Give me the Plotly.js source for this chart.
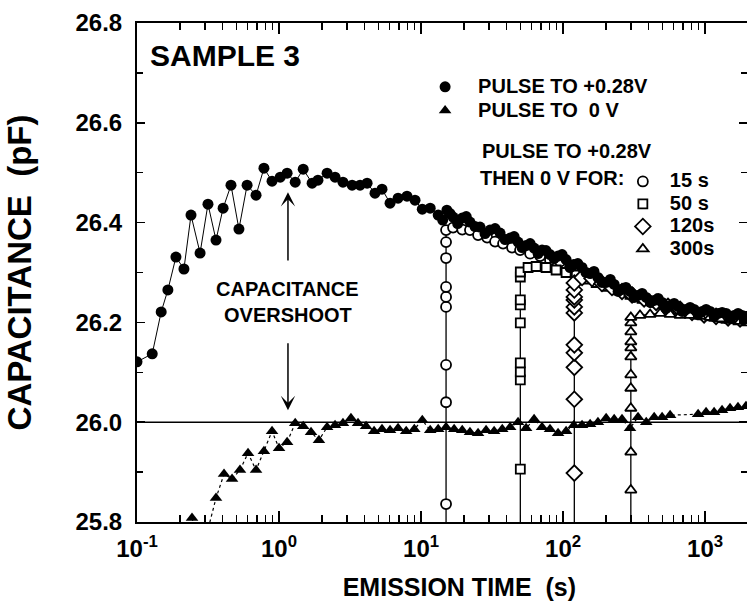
<!DOCTYPE html>
<html>
<head>
<meta charset="utf-8">
<script src="https://cdn.plot.ly/plotly-3.0.1.min.js"></script>
<style>html,body{margin:0;padding:0;background:#fff;}</style>
</head>
<body>
<div id="chart" style="width:747px;height:609px;"></div>
<script>
// ---- data ----
// Pulse to +0.28 V (filled circles)
const tPulse = [0.100, 0.128, 0.148, 0.165, 0.188, 0.214, 0.240, 0.278, 0.316, 0.360, 0.404, 0.459, 0.522, 0.596, 0.689, 0.783, 0.893, 1.02, 1.14, 1.30, 1.48, 1.71, 1.88, 2.18, 2.48, 2.82, 3.27, 3.72, 4.17, 4.74, 5.31, 6.05, 6.89, 7.96, 9.07, 10.2, 11.6,
  13.2, 14.2, 15.2, 16.0, 16.8, 18.1, 19.5, 20.8, 22.1, 24.0, 26.0, 28.2, 30.6, 33.2, 36.0, 39.1, 42.4, 45.2, 48.2, 51.4, 54.9, 58.6, 62.5, 66.7, 71.1, 75.8, 80.9, 86.4, 92.2, 98.4, 105, 112, 119, 127, 136, 145, 155, 165, 176, 188, 201, 215, 229, 244, 260, 277, 296, 316, 337, 360, 385, 411, 438, 467, 498, 531, 567, 605, 646, 689, 735, 784, 837, 893, 953, 1017, 1085, 1158, 1236, 1318, 1406, 1500, 1600, 1707, 1822, 1882, 1945];
const cPulse = [26.121, 26.137, 26.221, 26.265, 26.331, 26.307, 26.415, 26.339, 26.437, 26.365, 26.429, 26.475, 26.387, 26.475, 26.455, 26.509, 26.483, 26.491, 26.499, 26.481, 26.507, 26.479, 26.485, 26.499, 26.491, 26.481, 26.475, 26.475, 26.479, 26.459, 26.467, 26.439, 26.449, 26.453, 26.445, 26.427, 26.429,
  26.415, 26.405, 26.425, 26.418, 26.411, 26.398, 26.409, 26.412, 26.401, 26.392, 26.391, 26.378, 26.385, 26.388, 26.379, 26.366, 26.369, 26.372, 26.361, 26.35, 26.354, 26.358, 26.349, 26.338, 26.345, 26.344, 26.336, 26.328, 26.333, 26.336, 26.326, 26.31, 26.316, 26.318, 26.31, 26.3, 26.298, 26.302, 26.29, 26.28, 26.28, 26.286, 26.276, 26.262, 26.266, 26.27, 26.262, 26.25, 26.254, 26.258, 26.25, 26.24, 26.244, 26.248, 26.24, 26.228, 26.234, 26.238, 26.232, 26.222, 26.226, 26.23, 26.226, 26.216, 26.222, 26.226, 26.222, 26.212, 26.218, 26.22, 26.218, 26.208, 26.214, 26.218, 26.214, 26.206, 26.212];

// Pulse to 0 V (filled triangles)
const tZero = [0.244, 0.278, 0.316, 0.360, 0.410, 0.467, 0.531, 0.605, 0.689, 0.783, 0.893, 1.00, 1.14, 1.30, 1.48, 1.68, 1.91, 2.18, 2.48, 2.82, 3.21, 3.60, 4.10, 4.67, 5.31, 6.05, 6.89, 7.86, 8.96, 10.2, 11.6, 13.2, 15.0, 17.1, 19.5, 22.1, 25.2, 28.7, 32.7, 37.3, 42.4, 48.2, 54.9, 62.5, 71.1, 80.9, 92.2, 105, 119, 136, 155, 176, 201, 229, 260, 296, 337, 385, 438, 498, 567, 893, 1016, 1157, 1316, 1498, 1704, 1939];
const cZero = [25.808, 25.74, 25.785, 25.848, 25.896, 25.886, 25.904, 25.938, 25.904, 25.942, 25.982, 25.948, 25.96, 25.998, 25.992, 25.98, 25.964, 25.99, 25.994, 25.998, 26.008, 25.998, 25.992, 25.982, 25.986, 25.984, 25.988, 25.982, 25.986, 26.004, 25.984, 25.986, 25.99, 25.986, 25.984, 25.98, 25.978, 25.984, 25.982, 25.986, 25.99, 26.0, 25.988, 26.006, 25.99, 25.986, 25.978, 25.982, 25.994, 25.994, 25.996, 26.0, 26.008, 26.006, 26.006, 25.988, 26.01, 26.0, 26.01, 26.01, 26.014, 26.016, 26.02, 26.02, 26.024, 26.028, 26.03, 26.032];

// Pulse to +0.28 V then 0 V for 15 s (open circles)
const t15 = [15, 15, 15, 15, 15, 15, 15, 15, 15, 15, 16.8, 19.5, 22.1, 25.2, 29.2, 33.2, 37.8, 43.7, 49.8, 58.6, 68.9, 80.9, 95.3, 112, 132, 155, 182, 221, 269, 327, 397, 482, 586, 711, 864, 1050, 1276, 1549, 1884];
const c15 = [25.5, 25.836, 26.040, 26.115, 26.231, 26.251, 26.271, 26.329, 26.361, 26.385, 26.39, 26.386, 26.385, 26.375, 26.37, 26.362, 26.358, 26.35, 26.345, 26.338, 26.333, 26.325, 26.322, 26.31, 26.302, 26.292, 26.282, 26.272, 26.262, 26.252, 26.245, 26.238, 26.23, 26.224, 26.218, 26.214, 26.21, 26.208, 26.205];

// ... for 50 s (open squares)
const t50 = [50, 50, 50, 50, 50, 50, 50, 50, 50, 50, 56.7, 64.6, 75.9, 89.3, 105, 124, 145, 171, 201, 244, 296, 360, 438, 531, 646, 783, 953, 1156, 1406, 1706, 1945];
const c50 = [25.5, 25.906, 26.085, 26.101, 26.119, 26.199, 26.235, 26.245, 26.291, 26.301, 26.31, 26.312, 26.31, 26.305, 26.30, 26.295, 26.287, 26.28, 26.272, 26.265, 26.256, 26.248, 26.24, 26.232, 26.226, 26.22, 26.215, 26.212, 26.208, 26.205, 26.203];

// ... for 120 s (open diamonds)
const t120 = [120, 120, 120, 120, 120, 120, 120, 120, 120, 120, 120, 120, 136, 160, 188, 221, 260, 306, 372, 452, 548, 667, 809, 984, 1194, 1452, 1762];
const c120 = [25.5, 25.898, 26.046, 26.11, 26.139, 26.155, 26.219, 26.231, 26.245, 26.251, 26.265, 26.279, 26.29, 26.288, 26.278, 26.27, 26.262, 26.255, 26.247, 26.24, 26.232, 26.226, 26.22, 26.215, 26.212, 26.209, 26.207];

// ... for 300 s (open triangles)
const t300 = [300, 300, 300, 300, 300, 300, 300, 300, 300, 300, 300, 300, 348, 410, 482, 567, 667, 783, 922, 1084, 1276, 1500, 1762];
const c300 = [25.5, 25.864, 25.94, 26.028, 26.068, 26.095, 26.131, 26.149, 26.161, 26.181, 26.199, 26.21, 26.214, 26.216, 26.218, 26.216, 26.214, 26.214, 26.212, 26.21, 26.207, 26.204, 26.202];

const xTickVals = [0.1, 1, 10, 100, 1000];
const xTickText = ['10<sup>-1</sup>', '10<sup>0</sup>', '10<sup>1</sup>', '10<sup>2</sup>', '10<sup>3</sup>'];
const yTickVals = [25.8, 26.0, 26.2, 26.4, 26.6, 26.8];
const yTickText = ['25.8', '26.0', '26.2', '26.4', '26.6', '26.8'];
const legendNames = ['PULSE TO +0.28V', 'PULSE TO&nbsp;&nbsp;0 V', '15 s', '50 s', '120s', '300s'];
const noteLines = ['PULSE TO +0.28V', 'THEN 0 V FOR:'];
const baselineC = 26.0;

// ---- styling ----
const ARIAL = '"Liberation Sans", Arial, sans-serif';
const big = s => '<span style="font-size:20px">' + s + '</span>';

function lineTrace(x, y, dash, w) {
  return {x: x, y: y, type: 'scatter', mode: 'lines', showlegend: false, hoverinfo: 'skip',
          line: {color: 'black', width: w, dash: dash}};
}
function markTrace(x, y, name, symbol, size, legend, open) {
  return {x: x, y: y, type: 'scatter', mode: 'markers', name: name, legend: legend, hoverinfo: 'skip',
          marker: {symbol: symbol, size: size, color: open ? 'white' : 'black',
                   line: {color: 'black', width: open ? 1.8 : 0}}};
}

const data = [
  lineTrace(t15, c15, 'solid', 1.3),
  lineTrace(t50, c50, 'solid', 1.3),
  lineTrace(t120, c120, 'solid', 1.3),
  lineTrace(t300, c300, 'solid', 1.3),
  markTrace(t15, c15, big(legendNames[2]), 'circle', 10, 'legend2', true),
  markTrace(t50, c50, big(legendNames[3]), 'square', 9, 'legend2', true),
  markTrace(t120, c120, big(legendNames[4]), 'diamond', 12, 'legend2', true),
  markTrace(t300, c300, big(legendNames[5]), 'triangle-up', 10, 'legend2', true),
  lineTrace(tPulse, cPulse, 'solid', 1),
  lineTrace(tZero, cZero, 'dot', 1.2),
  markTrace(tPulse, cPulse, big(legendNames[0]), 'circle', 11, 'legend', false),
  markTrace(tZero, cZero, big(legendNames[1]), 'triangle-up', 11, 'legend', false)
];

const arrowX = Math.log10(1.156);
const layout = {
  width: 747, height: 609,
  margin: {l: 137, r: 0, t: 23, b: 87},
  paper_bgcolor: 'white', plot_bgcolor: 'white',
  font: {family: ARIAL, color: 'black'},
  showlegend: true,
  hovermode: false,
  xaxis: {
    type: 'log', range: [-1, 3.295],
    tickmode: 'array', tickvals: xTickVals, ticktext: xTickText,
    ticks: 'inside', ticklen: 11, tickwidth: 1.5, tickcolor: 'black',
    minor: {ticks: 'inside', ticklen: 7, tickwidth: 1.5, tickcolor: 'black', dtick: 'D1', showgrid: false},
    mirror: 'ticks', showline: true, linewidth: 2, linecolor: 'black',
    showgrid: false, zeroline: false,
    tickfont: {family: ARIAL, size: 24, weight: 700},
    ticklabelstandoff: 4,
    title: {text: '&nbsp;&nbsp;&nbsp;&nbsp;&nbsp;EMISSION TIME&nbsp;&nbsp;(s)', font: {family: ARIAL, size: 25, weight: 700}, standoff: 18}
  },
  yaxis: {
    range: [25.8, 26.8],
    tickmode: 'array', tickvals: yTickVals, ticktext: yTickText,
    ticks: 'inside', ticklen: 8, tickwidth: 1.5, tickcolor: 'black',
    minor: {ticks: 'inside', ticklen: 6, tickwidth: 1.5, tickcolor: 'black', dtick: 0.1, tick0: 25.8, showgrid: false},
    mirror: 'ticks', showline: true, linewidth: 2, linecolor: 'black',
    showgrid: false, zeroline: false,
    tickfont: {family: ARIAL, size: 24, weight: 700},
    ticklabelstandoff: 8,
    title: {text: 'CAPACITANCE&nbsp;&nbsp;(pF)', font: {family: ARIAL, size: 33, weight: 700}, standoff: 34}
  },
  legend: {x: 0.451, y: 0.906, xanchor: 'left', yanchor: 'top', bgcolor: 'rgba(0,0,0,0)', borderwidth: 0,
           font: {family: ARIAL, size: 16, weight: 700}, itemwidth: 56, tracegroupgap: 0},
  legend2: {x: 0.785, y: 0.715, xanchor: 'left', yanchor: 'top', bgcolor: 'rgba(0,0,0,0)', borderwidth: 0,
            font: {family: ARIAL, size: 15, weight: 700}, itemwidth: 44, tracegroupgap: 0},
  shapes: [{type: 'line', xref: 'paper', x0: 0, x1: 1, yref: 'y', y0: baselineC, y1: baselineC,
            line: {color: 'black', width: 1.5}, layer: 'below'}],
  annotations: [
    {xref: 'paper', yref: 'paper', x: 0.018, y: 0.934, xanchor: 'left', yanchor: 'middle', showarrow: false,
     text: 'SAMPLE 3', font: {family: ARIAL, size: 30, weight: 700}},
    {xref: 'paper', yref: 'paper', x: 0.562, y: 0.743, xanchor: 'left', yanchor: 'middle', showarrow: false,
     text: noteLines[0], font: {family: ARIAL, size: 20, weight: 700}},
    {xref: 'paper', yref: 'paper', x: 0.559, y: 0.689, xanchor: 'left', yanchor: 'middle', showarrow: false,
     text: noteLines[1], font: {family: ARIAL, size: 20, weight: 700}},
    {xref: 'x', yref: 'y', x: arrowX, y: 26.267, xanchor: 'center', yanchor: 'middle', showarrow: false,
     text: 'CAPACITANCE', font: {family: ARIAL, size: 20, weight: 700}},
    {xref: 'x', yref: 'y', x: arrowX, y: 26.215, xanchor: 'center', yanchor: 'middle', showarrow: false,
     text: 'OVERSHOOT', font: {family: ARIAL, size: 20, weight: 700}},
    {xref: 'x', yref: 'y', axref: 'x', ayref: 'y', x: arrowX, y: 26.461, ax: arrowX, ay: 26.321,
     showarrow: true, arrowhead: 3, arrowsize: 1.6, arrowwidth: 1.5, arrowcolor: 'black', text: ''},
    {xref: 'x', yref: 'y', axref: 'x', ayref: 'y', x: arrowX, y: 26.024, ax: arrowX, ay: 26.161,
     showarrow: true, arrowhead: 3, arrowsize: 1.6, arrowwidth: 1.5, arrowcolor: 'black', text: ''}
  ]
};

Plotly.newPlot('chart', data, layout, {displayModeBar: false, staticPlot: true});
</script>
</body>
</html>
